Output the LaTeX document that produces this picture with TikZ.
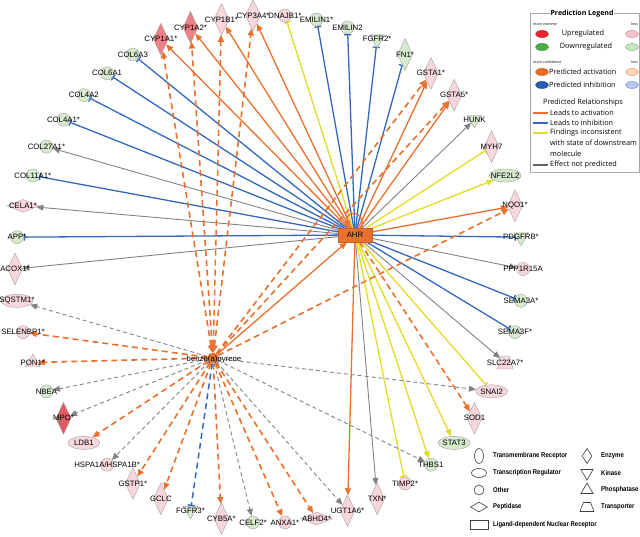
\documentclass[tikz,border=0pt]{standalone}
\usepackage{fontspec}
\setmainfont{Liberation Sans}
\newfontfamily\legfont{Open Sans}
\newfontfamily\shfont[FakeStretch=0.87]{Liberation Sans}
\usetikzlibrary{shapes.geometric,arrows.meta}
\definecolor{corange}{RGB}{233,113,45}
\definecolor{cblue}{RGB}{50,104,190}
\definecolor{cyellow}{RGB}{228,218,40}
\definecolor{cgrey}{RGB}{130,130,130}
\definecolor{cpink}{RGB}{247,214,220}
\definecolor{cgreen}{RGB}{214,234,205}
\definecolor{cred}{RGB}{236,128,134}
\definecolor{cred2}{RGB}{226,88,100}
\definecolor{cborder}{RGB}{165,160,160}
\pgfdeclarelayer{bg}
\pgfsetlayers{bg,main}
\newcommand\gnode[4]{\node[#3] (#1) at (#2:254) {};\node[lbl] (#1L) at (#2:254) {#4};}
\begin{document}
\begin{tikzpicture}[x=1pt,y=-1pt,
  base/.style={draw=cborder,line width=0.4pt,inner sep=0pt},
  circ/.style={base,circle,minimum size=13pt},
  ell/.style={base,ellipse,minimum width=32pt,minimum height=13pt},
  enz/.style={base,diamond,minimum width=15pt,minimum height=32pt},
  kin/.style={base,regular polygon,regular polygon sides=3,shape border rotate=180,minimum size=17pt},
  phos/.style={base,regular polygon,regular polygon sides=3,minimum size=17pt},
  pep/.style={base,diamond,minimum width=32pt,minimum height=13pt},
  trans/.style={base,trapezium,trapezium left angle=65,trapezium right angle=65,trapezium stretches=true,minimum width=16pt,minimum height=13pt,inner sep=1pt},
  pk/.style={fill=cpink},
  gr/.style={fill=cgreen},
  rd/.style={fill=cred},
  rdd/.style={fill=cred2},
  lbl/.style={inner sep=0pt,font=\fontsize{7.8}{9}\selectfont},
  act/.style={draw=corange,line width=1.3pt,-{Triangle[length=7pt,width=6pt]}},
  dact/.style={act,line width=1.6pt,dash pattern=on 6pt off 4pt},
  dactb/.style={dact,{Triangle[length=7pt,width=6pt]}-{Triangle[length=7pt,width=6pt]}},
  inh/.style={draw=cblue,line width=1.3pt,-{Bar[width=7pt]}},
  dinh/.style={inh,line width=1.5pt,dash pattern=on 6pt off 4pt},
  yinh/.style={draw=cyellow,line width=1.3pt,-{Bar[width=7pt]}},
  yact/.style={draw=cyellow,line width=1.3pt,-{Triangle[length=7pt,width=6pt]}},
  gact/.style={draw=cgrey,line width=0.9pt,-{Triangle[length=7pt,width=6pt]}},
  dgact/.style={gact,dash pattern=on 4pt off 3pt},
  legt/.style={inner sep=0pt,font=\legfont\fontsize{7.3}{8}\selectfont,anchor=west},
  legs/.style={inner sep=0pt,font=\legfont\fontsize{3.6}{4}\selectfont},
  lege/.style={ellipse,minimum width=13pt,minimum height=7pt,inner sep=0pt,line width=0.5pt},
  shl/.style={draw=black!75,fill=white,line width=0.6pt,inner sep=0pt},
  sht/.style={inner sep=0pt,anchor=west,font=\shfont\bfseries\fontsize{6.9}{8}\selectfont}
]
\useasboundingbox (0,0) rectangle (640,537);

% ---------- ring of molecules ----------
\begin{scope}[shift={(269,269)}]
\gnode{PPP1R15A}{0}{circ,pk}{PPP1R15A}
\gnode{SEMA3A}{7.2}{circ,gr}{SEMA3A*}
\gnode{SEMA3F}{14.4}{circ,gr}{SEMA3F*}
\gnode{SLC22A7}{21.6}{trans,pk}{SLC22A7*}
\gnode{SNAI2}{28.8}{ell,pk}{SNAI2}
\gnode{SOD1}{36}{enz,pk}{SOD1}
\gnode{STAT3}{43.2}{ell,gr}{STAT3}
\gnode{THBS1}{50.4}{circ,gr}{THBS1}
\gnode{TIMP2}{57.6}{circ,pk}{TIMP2*}
\gnode{TXN}{64.8}{enz,pk}{TXN*}
\gnode{UGT1A6}{72}{enz,pk}{UGT1A6*}
\gnode{ABHD4}{79.2}{pep,pk}{ABHD4*}
\gnode{ANXA1}{86.4}{circ,pk}{ANXA1*}
\gnode{CELF2}{93.6}{circ,gr}{CELF2*}
\gnode{CYB5A}{100.8}{enz,pk}{CYB5A*}
\gnode{FGFR3}{108}{kin,gr}{FGFR3*}
\gnode{GCLC}{115.2}{enz,pk}{GCLC}
\gnode{GSTP1}{122.4}{enz,pk}{GSTP1*}
\gnode{HSPA1A}{129.6}{circ,pk}{HSPA1A/HSPA1B*}
\gnode{LDB1}{136.8}{ell,pk}{LDB1}
\gnode{MPO}{144}{enz,rdd}{MPO*}
\gnode{NBEA}{151.2}{circ,gr}{NBEA}
\gnode{PON1}{158.4}{phos,pk}{PON1*}
\gnode{SELENBP1}{165.6}{circ,pk}{SELENBP1*}
\gnode{SQSTM1}{172.8}{ell,pk}{SQSTM1*}
\gnode{ACOX1}{180}{enz,pk}{ACOX1*}
\gnode{APP}{187.2}{circ,gr}{APP*}
\gnode{CELA1}{194.4}{pep,pk}{CELA1*}
\gnode{COL11A1}{201.6}{circ,gr}{COL11A1*}
\gnode{COL27A1}{208.8}{circ,gr}{COL27A1*}
\gnode{COL4A1}{216}{circ,gr}{COL4A1*}
\gnode{COL4A2}{223.2}{circ,gr}{COL4A2}
\gnode{COL6A1}{230.4}{circ,gr}{COL6A1}
\gnode{COL6A3}{237.6}{circ,gr}{COL6A3}
\gnode{CYP1A1}{244.8}{enz,rd}{CYP1A1*}
\gnode{CYP1A2}{252}{enz,rd}{CYP1A2*}
\gnode{CYP1B1}{259.2}{enz,pk}{CYP1B1*}
\gnode{CYP3A4}{266.4}{enz,pk}{CYP3A4*}
\gnode{DNAJB1}{273.6}{circ,pk}{DNAJB1*}
\gnode{EMILIN1}{280.8}{circ,gr}{EMILIN1*}
\gnode{EMILIN2}{288}{circ,gr}{EMILIN2}
\gnode{FGFR2}{295.2}{kin,gr}{FGFR2*}
\gnode{FN1}{302.4}{enz,gr}{FN1*}
\gnode{GSTA1}{309.6}{enz,pk}{GSTA1*}
\gnode{GSTA5}{316.8}{enz,pk}{GSTA5*}
\gnode{HUNK}{324}{kin,gr}{HUNK}
\gnode{MYH7}{331.2}{enz,pk}{MYH7}
\gnode{NFE2L2}{338.4}{ell,gr}{NFE2L2}
\gnode{NQO1}{345.6}{enz,pk}{NQO1*}
\gnode{PDGFRB}{352.8}{kin,gr}{PDGFRB*}
\end{scope}

% ---------- hubs ----------
\node[fill=corange,draw=corange!85!black,line width=0.4pt,minimum width=34pt,minimum height=14pt,inner sep=0pt,font=\fontsize{7.8}{9}\selectfont] (AHR) at (355,235) {AHR};
\node[circle,fill=corange,minimum size=11pt,inner sep=0pt] (BaP) at (213,358) {};
\node[lbl] (BaPL) at (214,359) {benzo(a)pyrene};

% ---------- connectors ----------
\begin{pgfonlayer}{bg}
\foreach \t in {CYP1A1,CYP1A2,CYP1B1,CYP3A4,GSTA1,GSTA5,NQO1,UGT1A6} \draw[act] (AHR) -- (\t);
\foreach \t in {COL6A3,COL6A1,COL4A2,COL4A1,COL11A1,APP,EMILIN1,EMILIN2,FGFR2,FN1,PDGFRB,SEMA3A,SEMA3F} \draw[inh] (AHR) -- (\t);
\foreach \t in {COL27A1,CELA1,ACOX1,HUNK,PPP1R15A,SLC22A7,TXN} \draw[gact] (AHR) -- (\t);
\foreach \t in {DNAJB1,MYH7,SNAI2,TIMP2} \draw[yinh] (AHR) -- (\t);
\foreach \t in {NFE2L2,STAT3,THBS1} \draw[yact] (AHR) -- (\t);
\draw[dact] (AHR) -- (SOD1);
\draw[act] ([xshift=7pt]AHR.north) .. controls +(3,-18) and +(-3,-18) .. ([xshift=-7pt]AHR.north);
\draw[act] (BaP) -- (AHR);
\foreach \t in {CYP1A1,CYP1A2,CYP1B1,CYP3A4} \draw[dactb] (BaP) -- (\t);
\foreach \t in {GSTA1,GSTA5,NQO1,SELENBP1,PON1,LDB1,GSTP1,GCLC,CYB5A,ANXA1,ABHD4} \draw[dact] (BaP) -- (\t);
\foreach \t in {SQSTM1,NBEA,MPO,HSPA1A,CELF2,UGT1A6,THBS1,SNAI2} \draw[dgact] (BaP) -- (\t);
\draw[dinh] (BaP) -- (FGFR3);
\end{pgfonlayer}

% ---------- prediction legend ----------
\node[draw=gray!70,line width=0.5pt,minimum width=109pt,minimum height=159pt,anchor=north west,inner sep=0pt] (legbox) at (530,13) {};
\node[fill=white,inner sep=1pt,font=\legfont\bfseries\fontsize{7}{8}\selectfont] (legtitle) at (582,14) {Prediction Legend};
\node[legs,anchor=west] (me1) at (533,24) {more extreme};
\node[legs,anchor=east] (me2) at (638,24) {less};
\node[lege,fill={rgb,255:red,232;green,38;blue,46},draw={rgb,255:red,200;green,30;blue,40}] (e1) at (542,34) {};
\node[inner sep=0pt,font=\legfont\fontsize{7.3}{8}\selectfont] (t1) at (583,34) {Upregulated};
\node[lege,fill={rgb,255:red,246;green,196;blue,202},draw={rgb,255:red,200;green,140;blue,150}] (e2) at (632,34) {};
\node[lege,fill={rgb,255:red,70;green,176;blue,70},draw={rgb,255:red,50;green,140;blue,50}] (e3) at (542,47) {};
\node[inner sep=0pt,font=\legfont\fontsize{7.3}{8}\selectfont] (t2) at (586,47) {Downregulated};
\node[lege,fill={rgb,255:red,200;green,230;blue,192},draw={rgb,255:red,140;green,180;blue,130}] (e4) at (632,47) {};
\node[legs,anchor=west] (mc1) at (533,62) {more confidence};
\node[legs,anchor=east] (mc2) at (638,62) {less};
\node[lege,fill={rgb,255:red,230;green,110;blue,40},draw={rgb,255:red,200;green,90;blue,30}] (e5) at (542,72) {};
\node[legt] (t3) at (549,72) {Predicted activation};
\node[lege,fill={rgb,255:red,250;green,214;blue,185},draw={rgb,255:red,220;green,160;blue,120}] (e6) at (632,72) {};
\node[lege,fill={rgb,255:red,40;green,90;blue,180},draw={rgb,255:red,30;green,70;blue,150}] (e7) at (542,85) {};
\node[legt] (t4) at (549,85) {Predicted inhibition};
\node[lege,fill={rgb,255:red,182;green,202;blue,240},draw={rgb,255:red,120;green,150;blue,210}] (e8) at (632,85) {};
\node[inner sep=0pt,font=\legfont\fontsize{7.3}{8}\selectfont] (t5) at (583,103) {Predicted Relationships};
\coordinate (la1) at (533,113); \coordinate (la2) at (548,113);
\coordinate (lb1) at (533,123); \coordinate (lb2) at (548,123);
\coordinate (lc1) at (533,133); \coordinate (lc2) at (548,133);
\coordinate (ld1) at (533,165); \coordinate (ld2) at (548,165);
\draw[corange,line width=1.3pt] (la1) -- (la2);
\draw[cblue,line width=1.3pt] (lb1) -- (lb2);
\draw[cyellow,line width=1.3pt] (lc1) -- (lc2);
\draw[black!60,line width=1.3pt] (ld1) -- (ld2);
\node[legt] (t6) at (550,113) {Leads to activation};
\node[legt] (t7) at (550,123) {Leads to inhibition};
\node[legt] (t8) at (550,133) {Findings inconsistent};
\node[legt] (t9) at (550,143) {with state of downstream};
\node[legt] (t10) at (550,153.5) {molecule};
\node[legt] (t11) at (550,165) {Effect not predicted};

% ---------- shape legend ----------
\node[shl,ellipse,minimum width=9pt,minimum height=15pt] (s1) at (479,456) {};
\node[shl,ellipse,minimum width=15pt,minimum height=9pt] (s2) at (479,473) {};
\node[shl,circle,minimum size=10pt] (s3) at (479,490) {};
\node[shl,diamond,minimum width=17pt,minimum height=10pt] (s4) at (479,507) {};
\node[shl,rectangle,minimum width=18pt,minimum height=9pt] (s5) at (479,525) {};
\node[sht] (st1) at (493,456) {Transmembrane Receptor};
\node[sht] (st2) at (493,473) {Transcription Regulator};
\node[sht] (st3) at (493,490) {Other};
\node[sht] (st4) at (493,507) {Peptidase};
\node[sht] (st5) at (493,525) {Ligand-dependent Nuclear Receptor};
\node[shl,diamond,minimum width=10pt,minimum height=15pt] (s6) at (587,456) {};
\node[shl,regular polygon,regular polygon sides=3,shape border rotate=180,minimum size=14pt] (s7) at (587,473) {};
\node[shl,regular polygon,regular polygon sides=3,minimum size=14pt] (s8) at (587,490) {};
\node[shl,trapezium,trapezium left angle=65,trapezium right angle=65,trapezium stretches=true,minimum width=14pt,minimum height=9pt,inner sep=1pt] (s9) at (587,507) {};
\node[sht] (st6) at (601,456) {Enzyme};
\node[sht] (st7) at (601,473) {Kinase};
\node[sht] (st8) at (601,490) {Phosphatase};
\node[sht] (st9) at (601,507) {Transporter};
\end{tikzpicture}
\end{document}
